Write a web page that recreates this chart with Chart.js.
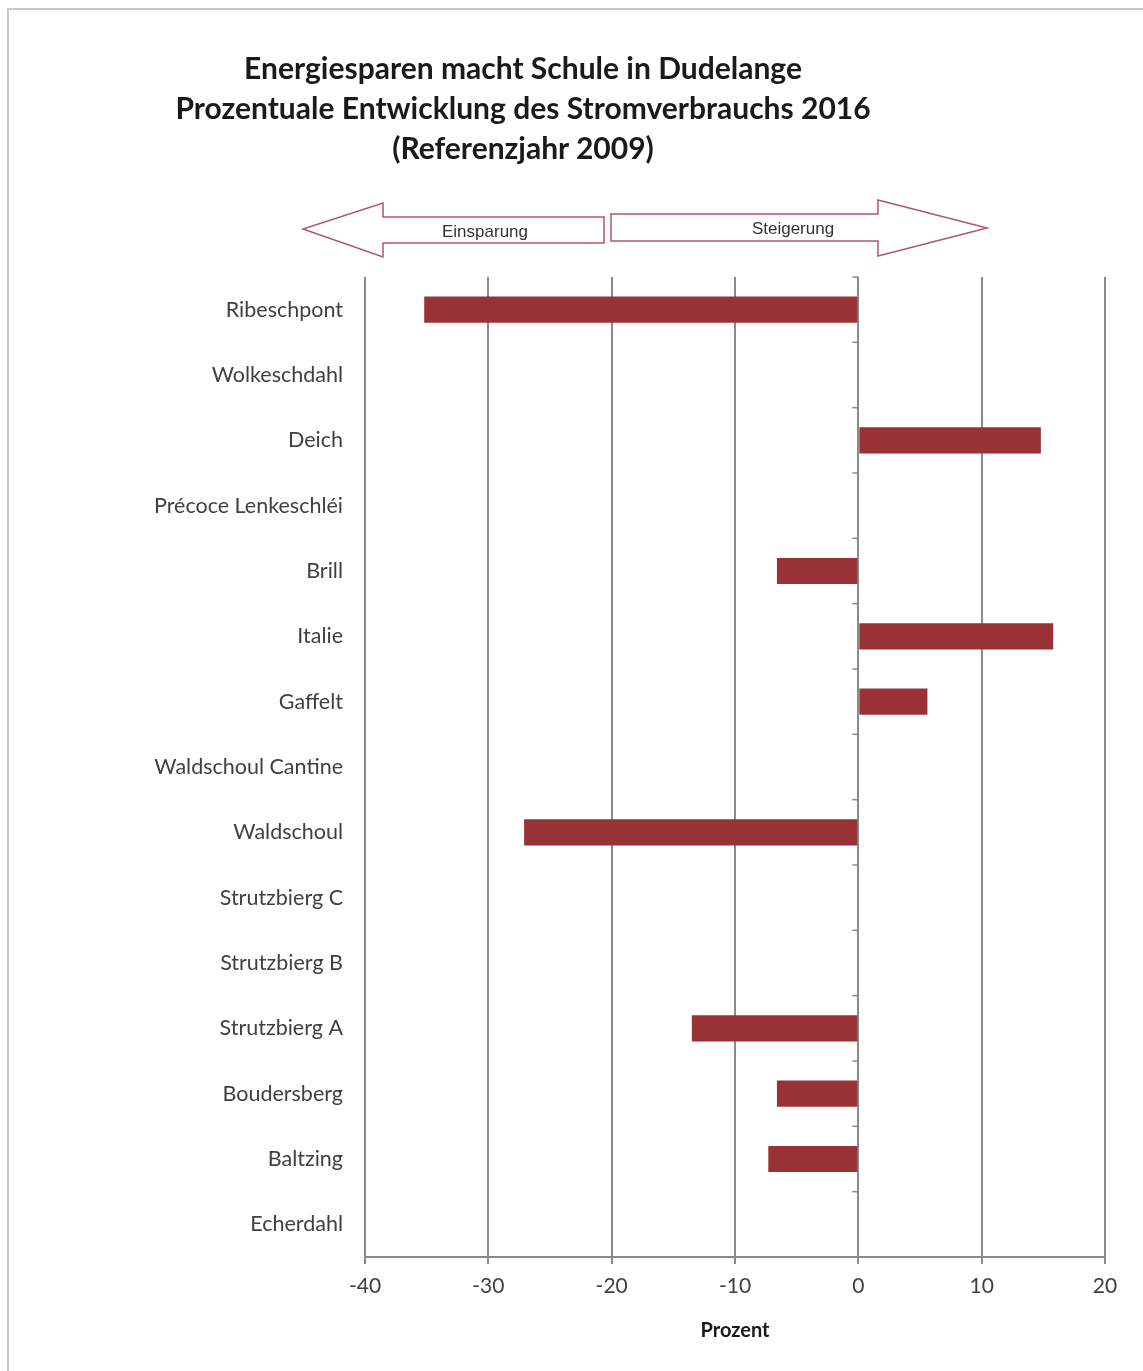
<!DOCTYPE html>
<html>
<head>
<meta charset="utf-8">
<script src="https://cdn.jsdelivr.net/npm/chart.js@4.4.0/dist/chart.umd.min.js"></script>
<style>
  html, body { margin: 0; padding: 0; background: #fff; overflow: hidden; }
  #wrap { position: relative; width: 1143px; height: 1371px; overflow: hidden; }
  #frame { position: absolute; left: 7px; top: 8px; width: 1300px; height: 1500px; border-left: 2px solid #c9c9c9; border-top: 2px solid #c9c9c9; box-sizing: border-box; }
  #title { position: absolute; left: 0; top: 47px; width: 1046px; text-align: center; font-family: Lato, "Open Sans", sans-serif; font-weight: bold; color: #1a1a1a; font-size: 30px; line-height: 40px; }
  canvas { position: absolute; left: 0; top: 0; }
</style>
</head>
<body>
<div id="wrap">
  <div id="frame"></div>
  <canvas id="c" width="1143" height="1371"></canvas>
  <div id="title">Energiesparen macht Schule in Dudelange<br>Prozentuale Entwicklung des Stromverbrauchs 2016<br>(Referenzjahr 2009)</div>
</div>
<script>
const categories = ["Ribeschpont", "Wolkeschdahl", "Deich", "Précoce Lenkeschléi", "Brill", "Italie", "Gaffelt", "Waldschoul Cantine", "Waldschoul", "Strutzbierg C", "Strutzbierg B", "Strutzbierg A", "Boudersberg", "Baltzing", "Echerdahl"];
const values = [-35.2, null, 14.8, null, -6.6, 15.8, 5.6, null, -27.1, null, null, -13.5, -6.6, -7.3, null];
const xTicks = [-40, -30, -20, -10, 0, 10, 20];
const arrowLabels = ["Einsparung", "Steigerung"];
const axisTitle = "Prozent";

const decor = {
  id: 'decor',
  afterDraw(chart) {
    const ctx = chart.ctx;
    const y = chart.scales.y, x = chart.scales.x;
    const x0 = x.getPixelForValue(0);
    ctx.save();
    ctx.strokeStyle = '#8a8a8a';
    ctx.lineWidth = 1.5;
    for (let i = 0; i < categories.length; i++) {
      const py = y.getPixelForValue(i - 0.5);
      ctx.beginPath();
      ctx.moveTo(x0 - 6, py);
      ctx.lineTo(x0, py);
      ctx.stroke();
    }
    ctx.strokeStyle = '#b5546c';
    ctx.fillStyle = '#ffffff';
    ctx.lineWidth = 1.5;
    ctx.beginPath();
    ctx.moveTo(604, 217); ctx.lineTo(383, 217); ctx.lineTo(383, 203); ctx.lineTo(303, 229);
    ctx.lineTo(383, 257); ctx.lineTo(383, 243); ctx.lineTo(604, 243); ctx.closePath();
    ctx.fill(); ctx.stroke();
    ctx.beginPath();
    ctx.moveTo(611, 214); ctx.lineTo(878, 214); ctx.lineTo(878, 200); ctx.lineTo(987, 228);
    ctx.lineTo(878, 256); ctx.lineTo(878, 241); ctx.lineTo(611, 241); ctx.closePath();
    ctx.fill(); ctx.stroke();
    ctx.fillStyle = '#333333';
    ctx.font = '17px "Liberation Sans", Arial, sans-serif';
    ctx.textAlign = 'center';
    ctx.textBaseline = 'middle';
    ctx.fillText(arrowLabels[0], 485, 232);
    ctx.fillText(arrowLabels[1], 793, 229);
    ctx.restore();
  }
};

new Chart(document.getElementById('c'), {
  type: 'bar',
  data: {
    labels: categories,
    datasets: [{
      data: values,
      backgroundColor: '#983236',
      borderWidth: 0,
      barPercentage: 0.4,
      categoryPercentage: 1.0
    }]
  },
  options: {
    indexAxis: 'y',
    responsive: false,
    animation: false,
    devicePixelRatio: 1,
    layout: { padding: { top: 277, right: 38, left: 0, bottom: 0 } },
    plugins: { legend: { display: false }, tooltip: { enabled: false }, title: { display: false } },
    scales: {
      x: {
        min: -40, max: 20,
        afterBuildTicks(scale) { scale.ticks = xTicks.map(v => ({ value: v })); },
        afterFit(scale) { scale.height = 114; },
        grid: { color: '#8a8a8a', lineWidth: 2, tickLength: 7, drawTicks: true },
        border: { display: true, color: '#8a8a8a', width: 2 },
        ticks: { color: '#404040', font: { family: 'Lato, "Open Sans", sans-serif', size: 21 }, padding: 10 },
        title: { display: true, text: axisTitle, color: '#1a1a1a', font: { family: 'Lato, "Open Sans", sans-serif', size: 20, weight: 'bold' }, padding: { top: 0, bottom: 28 } }
      },
      y: {
        afterFit(scale) { scale.width = 365; },
        grid: { display: false, drawTicks: false },
        border: { display: false },
        ticks: { color: '#404040', font: { family: 'Lato, "Open Sans", sans-serif', size: 21.5 }, padding: 22, autoSkip: false }
      }
    }
  },
  plugins: [decor]
});
</script>
</body>
</html>
